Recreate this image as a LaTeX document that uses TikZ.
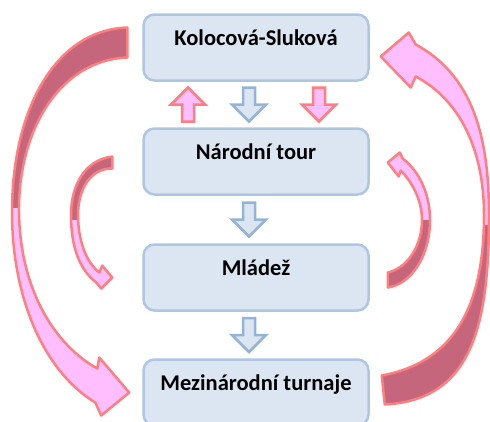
\documentclass[tikz,border=0pt]{standalone}
\usepackage{fontspec}
\setmainfont{Carlito}
\usetikzlibrary{calc}
\definecolor{boxfill}{HTML}{DCE6F2}
\definecolor{boxline}{HTML}{AFC6E3}
\definecolor{blueline}{HTML}{95B3D7}
\definecolor{pinkline}{HTML}{FF7F80}
\definecolor{pinkfill}{HTML}{FFBFFF}
\definecolor{pinkdark}{HTML}{C6667C}
\newcommand\twotone[4]{%
  \begin{scope}\clip (0,0) rectangle (490,#2); \fill[#3] #1; \end{scope}
  \begin{scope}\clip (0,#2) rectangle (490,421); \fill[#4] #1; \end{scope}
  \draw[bigline] #1;}
\begin{document}
\begin{tikzpicture}[x=1pt,y=-1pt]
	\tikzset{box/.style = {draw=boxline, fill=boxfill, line width=2.5pt, rounded corners=11pt, minimum width=225pt, inner ysep=0pt, text height=30.5pt, text depth=35.5pt, font=\bfseries\fontsize{22.5}{26}\selectfont}}
	\tikzset{smallarr/.style = {line width=2.5pt, line join=miter}}
	\tikzset{bigline/.style = {draw=pinkline, line width=2.5pt, line join=round}}
	\tikzset{downarr/.pic = {\path[pic actions] (-6,-17) -- (6,-17) -- (6,0) -- (17,0) -- (0,17) -- (-17,0) -- (-6,0) -- cycle;}}
	\tikzset{uparr/.pic = {\path[pic actions] (-6,17) -- (6,17) -- (6,0) -- (17,0) -- (0,-17) -- (-17,0) -- (-6,0) -- cycle;}}
	\clip (0,0) rectangle (490,421);
	\node[box] (kol) at (256,47.5) {Kolocová-Sluková};
	\node[box] (nar) at (256,161.5) {Národní tour};
	\node[box] (mla) at (256,277.5) {Mládež};
	\node[box] (mez) at (256,392.5) {Mezinárodní turnaje};
	\pic[smallarr, draw=pinkline, fill=pinkfill] at ($(kol.south)!.5!(nar.north)+(-68,0)$) {uparr};
	\pic[smallarr, draw=blueline, fill=boxfill] at ($(kol.south)!.5!(nar.north)+(-7,0)$) {downarr};
	\pic[smallarr, draw=pinkline, fill=pinkfill] at ($(kol.south)!.5!(nar.north)+(63,0)$) {downarr};
	\pic[smallarr, draw=blueline, fill=boxfill] at ($(nar.south)!.5!(mla.north)+(-7,0)$) {downarr};
	\pic[smallarr, draw=blueline, fill=boxfill] at ($(mla.south)!.5!(mez.north)+(-7,0)$) {downarr};
	\twotone{($(kol.west)+(-15,-20)$) .. controls (55,30) and (12,110) .. (12,212) .. controls (12,300) and (45,372) .. ($(mez.west)+(-47,10)$) -- ($(mez.west)+(-41,23)$) -- ($(mez.west)+(-13,0)$) -- ($(mez.west)+(-43,-35)$) -- ($(mez.west)+(-45,-24)$) .. controls (55,345) and (20,290) .. (19,212) .. controls (18,130) and (60,60) .. ($(kol.west)+(-15,10)$) -- cycle}{208}{pinkdark}{pinkfill}
	\twotone{($(mez.east)+(12,-17)$) .. controls (455,362) and (484,305) .. (484,215) .. controls (484,150) and (460,100) .. ($(kol.east)+(46,29)$) -- ($(kol.east)+(41,40)$) -- ($(kol.east)+(11,9)$) -- ($(kol.east)+(39,-15)$) -- ($(kol.east)+(46,-3)$) .. controls (472,75) and (489,135) .. (489,215) .. controls (489,330) and (470,400) .. ($(mez.east)+(15,12)$) -- cycle}{225}{pinkfill}{pinkdark}
	\twotone{($(nar.west)+(-30,-5)$) .. controls (85,160) and (71,185) .. (71,215) .. controls (71,248) and (80,270) .. ($(mla.west)+(-46,5)$) -- ($(mla.west)+(-41,11)$) -- ($(mla.west)+(-30,0)$) -- ($(mla.west)+(-40,-12)$) -- ($(mla.west)+(-43,-5)$) .. controls (86,262) and (78,240) .. (78,215) .. controls (78,190) and (90,168) .. ($(nar.west)+(-30,7)$) -- cycle}{220}{pinkdark}{pinkfill}
	\twotone{($(mla.east)+(18,-5)$) .. controls (408,268) and (422,245) .. (422,220) .. controls (422,200) and (412,182) .. ($(nar.east)+(31,9)$) -- ($(nar.east)+(29,15)$) -- ($(nar.east)+(18,1)$) -- ($(nar.east)+(30,-9)$) -- ($(nar.east)+(33,-3)$) .. controls (420,172) and (430,195) .. (430,220) .. controls (430,255) and (412,284) .. ($(mla.east)+(18,10)$) -- cycle}{220}{pinkfill}{pinkdark}
\end{tikzpicture}
\end{document}
